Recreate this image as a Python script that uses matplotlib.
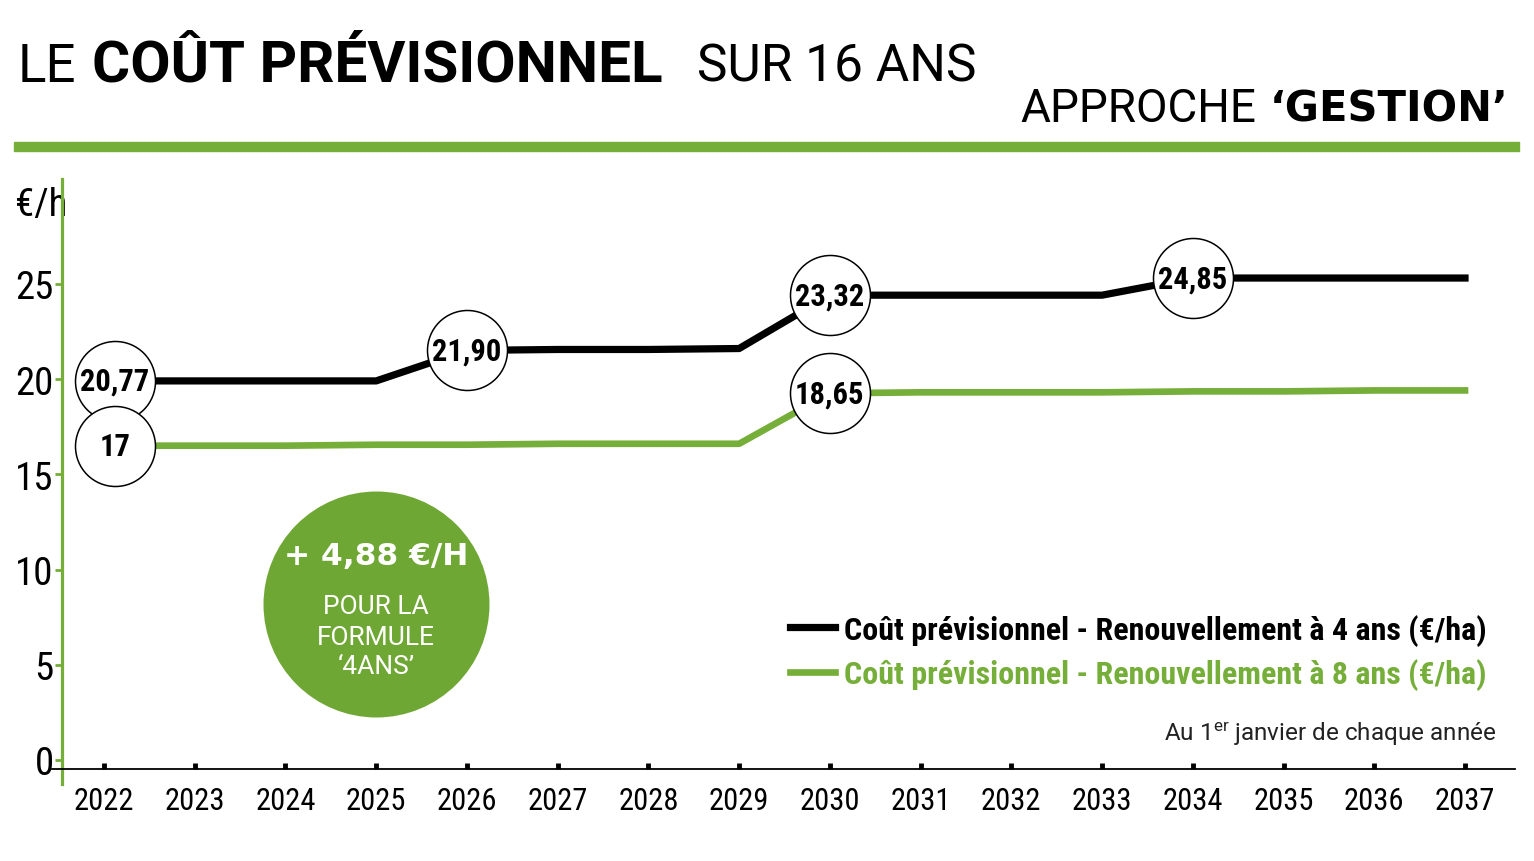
import matplotlib
matplotlib.use('Agg')
import matplotlib.pyplot as plt
from matplotlib import font_manager
from matplotlib.patches import Rectangle

# données
annees = list(range(2022, 2038))
cout_4ans = [19.9, 19.9, 19.9, 19.9, 21.5, 21.55, 21.55, 21.6,
             24.4, 24.4, 24.4, 24.4, 25.3, 25.3, 25.3, 25.3]
cout_8ans = [16.5, 16.5, 16.5, 16.55, 16.55, 16.6, 16.6, 16.6,
             19.25, 19.3, 19.3, 19.3, 19.35, 19.35, 19.4, 19.4]

# bulles (année, série, texte)
bulles_annee = [2022, 2022, 2026, 2030, 2030, 2034]
bulles_serie = ['4ans', '8ans', '4ans', '4ans', '8ans', '4ans']
bulles_texte = ['20,77', '17', '21,90', '23,32', '18,65', '24,85']

yticks = [0, 5, 10, 15, 20, 25]
label_4ans = 'Coût prévisionnel - Renouvellement à 4 ans (€/ha)'
label_8ans = 'Coût prévisionnel - Renouvellement à 8 ans (€/ha)'

VERT = '#76ae3a'
VERT_ROND = '#6fa735'


def pick(cands):
    noms = {f.name for f in font_manager.fontManager.ttflist}
    for c in cands:
        if c in noms:
            return c
    return 'DejaVu Sans'


NARROW = pick(['Roboto Condensed', 'Liberation Sans Narrow', 'Liberation Sans'])
LIGHT = pick(['Roboto', 'Lato', 'Open Sans'])
HEAVY = 'DejaVu Sans'

W, H = 1534, 862
def fx(px):
    return px / W
def fy(py):
    return 1 - py / H


fig = plt.figure(figsize=(W / 100, H / 100), dpi=100)
ax = fig.add_axes([fx(62), fy(770), (1515 - 62) / W, (770 - 180) / H])

px_an = 1361 / 15
ax.set_xlim(2022 - 42 / px_an, 2037 + 50 / px_an)
ax.set_ylim(-9 / 19.05, 581 / 19.05)

l4, = ax.plot(annees, cout_4ans, color='black', lw=5.2, label=label_4ans, zorder=2)
l8, = ax.plot(annees, cout_8ans, color=VERT, lw=4.8, label=label_8ans, zorder=2)

# bulles blanches
serie = {'4ans': dict(zip(annees, cout_4ans)), '8ans': dict(zip(annees, cout_8ans))}
for i, (a, s, t) in enumerate(zip(bulles_annee, bulles_serie, bulles_texte)):
    xa = a + (11 / px_an if a == 2022 else 0)
    y = serie[s][a]
    ax.scatter([xa], [y], s=3318, facecolor='white',
               edgecolor='black', linewidth=1.1, zorder=4 + i)
    ax.text(xa, y, t, ha='center', va='center', fontsize=22,
            family=NARROW, fontweight='bold', zorder=4 + i)

# rond vert
ax.scatter([2025], [8.2], s=26475, color=VERT_ROND, zorder=3, linewidths=0)
ax.annotate('+ 4,88 €/H', (2025, 8.2), xytext=(0, 35), textcoords='offset points',
            ha='center', va='center', color='white', fontsize=22.5, fontweight='bold',
            family=HEAVY, zorder=4)
for dy, t in zip([-1.5, -24, -45], ['POUR LA', 'FORMULE', '‘4ANS’']):
    ax.annotate(t, (2025, 8.2), xytext=(0, dy), textcoords='offset points',
                ha='center', va='center', color='white', fontsize=19,
                family=LIGHT, zorder=4)

# axes
for sp in ax.spines.values():
    sp.set_visible(False)
ax.plot([0, 0], [-0.0254, 1.0], transform=ax.transAxes, color=VERT, lw=2.3,
        clip_on=False, zorder=6)
ax.plot([-0.007, 1.0], [0, 0], transform=ax.transAxes, color='black', lw=1.3,
        clip_on=False, zorder=6)

ax.set_yticks(yticks)
ax.set_yticklabels([str(v) for v in yticks], family=NARROW)
ax.tick_params(axis='y', colors=VERT, labelcolor='black', length=5, width=2,
               labelsize=28, pad=1)
ax.set_xticks(annees)
ax.set_xticklabels([str(a) for a in annees], family=NARROW)
ax.tick_params(axis='x', direction='in', length=4, width=3.5, colors='black',
               labelsize=22, pad=12)

ax.text((15 - 62) / 1453, (770 - 205) / 590, '€/h', transform=ax.transAxes,
        ha='left', va='center', fontsize=28, family=NARROW, clip_on=False, zorder=1)

# légende
ax.legend(handles=[l4, l8], loc='center left', frameon=False,
          bbox_to_anchor=(fx(790), fy(653)), bbox_transform=fig.transFigure,
          borderpad=0, borderaxespad=0, handlelength=1.4, handletextpad=0.3,
          labelspacing=0.4, labelcolor='linecolor',
          prop=dict(family=NARROW, weight='bold', size=23))

fig.text(fx(1496), fy(741), 'Au 1$^{\\mathregular{er}}$ janvier de chaque année',
         ha='right', va='baseline', fontsize=17.5, family=LIGHT, color='#222222')

# en-tête
fig.text(fx(18), fy(82), 'LE', ha='left', va='baseline', fontsize=38,
         family=LIGHT, fontweight='normal')
fig.text(fx(92), fy(82), 'COÛT PRÉVISIONNEL', ha='left', va='baseline',
         fontsize=42, family=LIGHT, fontweight='bold')
fig.text(fx(697), fy(82), 'SUR 16 ANS', ha='left', va='baseline', fontsize=37,
         family=LIGHT, fontweight='normal')
fig.text(fx(1020), fy(122), 'APPROCHE', ha='left', va='baseline', fontsize=33,
         family=LIGHT, fontweight='normal')
fig.text(fx(1508), fy(122), '‘GESTION’', ha='right', va='baseline', fontsize=30,
         family=HEAVY, fontweight='bold')
fig.patches.append(Rectangle((fx(14), fy(152)), fx(1519) - fx(14), 9 / H,
                             transform=fig.transFigure, color=VERT))

fig.savefig('out.png', dpi=100)
